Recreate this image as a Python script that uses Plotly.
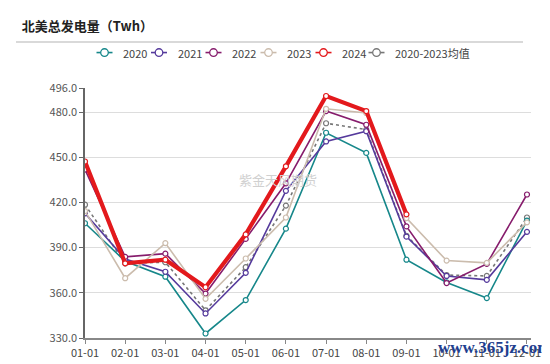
import plotly.graph_objects as go

months = ["01-01", "02-01", "03-01", "04-01", "05-01", "06-01",
          "07-01", "08-01", "09-01", "10-01", "11-01", "12-01"]

y2020 = [406.2, 381.0, 370.7, 333.0, 355.2, 402.6, 466.3, 452.9, 382.0, 366.9, 356.5, 408.0]
y2021 = [412.8, 382.4, 374.0, 346.3, 373.3, 427.7, 460.5, 467.3, 397.3, 371.2, 368.6, 400.5]
y2022 = [441.9, 383.9, 386.0, 359.5, 395.8, 432.7, 480.7, 471.6, 404.1, 366.5, 379.2, 425.3]
y2023 = [414.3, 369.7, 393.0, 356.0, 382.8, 410.0, 482.2, 479.4, 409.6, 381.4, 379.9, 406.8]
y2024 = [447.2, 379.6, 382.0, 363.7, 398.8, 444.0, 490.7, 480.7, 412.1]
yavg = [418.5, 379.6, 380.3, 348.4, 377.0, 417.9, 472.6, 468.4, 397.9, 371.8, 371.2, 410.0]

y_ticks = [330, 360, 390, 420, 450, 480, 496]

series_names = ["2020", "2021", "2022", "2023", "2024", "2020-2023均值"]
series_colors = ["#16878a", "#553a9c", "#861c6c", "#cbbcad", "#e3191c", "#777777"]

FONT = "Noto Sans CJK SC"

# plot-area geometry (pixels) used to place legend/title decorations
L, T, W, H = 77, 80, 446, 261
def px_x(px):
    return (px - L) / W
def px_y(py):
    return (T + H - py) / H

fig = go.Figure()

def add(ys, idx, width, dash="solid"):
    color = series_colors[idx]
    fig.add_trace(go.Scatter(
        x=months[:len(ys)], y=ys, name=series_names[idx], mode="lines+markers",
        line=dict(color=color, width=width, dash=dash),
        marker=dict(symbol="circle", size=5, color="white",
                    line=dict(color=color, width=1.2)),
        showlegend=False,
    ))

add(yavg, 5, 1.6, dash="dot")
add(y2020, 0, 1.6)
add(y2021, 1, 1.6)
add(y2022, 2, 1.6)
add(y2023, 3, 1.6)
add(y2024, 4, 4.2)

# custom legend (horizontal, compact like the reference)
legend_text_x = [113, 167.5, 222, 277, 332, 385]
legend_y = px_y(43)
shapes = [dict(type="line", xref="paper", yref="paper",
               x0=px_x(8), x1=px_x(515), y0=px_y(32), y1=px_y(32),
               line=dict(color="#cccccc", width=1.5))]
annotations = []
for name, color, tx in zip(series_names, series_colors, legend_text_x):
    cx = tx - 16.5
    shapes.append(dict(type="line", xref="paper", yref="paper",
                       xsizemode="pixel", xanchor=px_x(cx),
                       x0=-8, x1=8, y0=legend_y, y1=legend_y,
                       line=dict(color=color, width=1.6)))
    shapes.append(dict(type="circle", xref="paper", yref="paper",
                       xsizemode="pixel", ysizemode="pixel",
                       xanchor=px_x(cx), yanchor=legend_y,
                       x0=-3.8, x1=3.8, y0=-3.8, y1=3.8,
                       fillcolor="white", line=dict(color=color, width=1.3)))
    annotations.append(dict(text=name, x=px_x(tx), y=legend_y, xref="paper", yref="paper",
                            xanchor="left", yanchor="middle", showarrow=False,
                            font=dict(family=FONT, size=11, color="#444")))

annotations += [
    dict(text="紫金天风期货", x=px_x(270), y=px_y(176),
         xref="paper", yref="paper", showarrow=False,
         font=dict(family=FONT, size=13, color="#d0d0d0")),
    dict(text="<b>www.365jz.com</b>", x=px_x(428), y=px_y(351),
         xref="paper", yref="paper", xanchor="left", yanchor="middle", showarrow=False,
         font=dict(family="Liberation Serif", size=17, color="#1f3f8f")),
]

fig.update_layout(
    width=550, height=364,
    margin=dict(l=L, r=550 - L - W, t=T, b=364 - T - H),
    paper_bgcolor="white", plot_bgcolor="white",
    font=dict(family=FONT, size=11, color="#444"),
    title=dict(text="<b>北美总发电量（Twh）</b>", x=0.025, xref="container",
               y=1 - 18 / 364, yref="container", yanchor="middle", xanchor="left",
               font=dict(family=FONT, size=13, color="#222")),
    showlegend=False,
    xaxis=dict(type="category", range=[0, 11.1], showgrid=False,
               showline=True, linecolor="#888", linewidth=1.5,
               ticks="outside", ticklen=4, tickcolor="#888",
               tickfont=dict(size=11, color="#444"), fixedrange=True),
    yaxis=dict(range=[330, 496], tickvals=y_ticks, tickformat=".1f",
               showgrid=True, gridcolor="#dddddd", gridwidth=1.2,
               showline=True, linecolor="#666", linewidth=1.5,
               ticks="outside", ticklen=4, tickcolor="#666", zeroline=False,
               tickfont=dict(size=11, color="#555"), fixedrange=True),
    shapes=shapes,
    annotations=annotations,
)

fig.write_html("out.html")
